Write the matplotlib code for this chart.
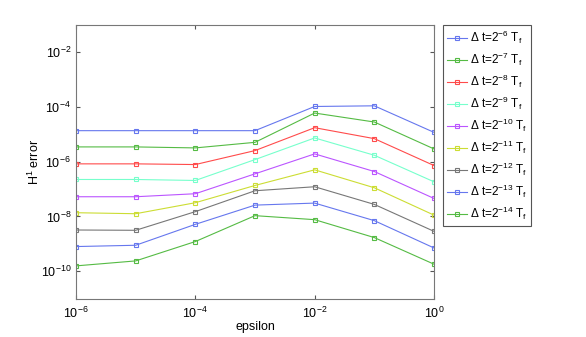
#!/usr/bin/env python3
"""H1 error vs epsilon for several time steps."""
import matplotlib

matplotlib.use("Agg")
import matplotlib.pyplot as plt

plt.rcParams["font.family"] = ["Liberation Sans", "DejaVu Sans"]
plt.rcParams["mathtext.default"] = "regular"

epsilon = [1e-6, 1e-5, 1e-4, 1e-3, 1e-2, 1e-1, 1e0]
dt_exponents = [-6, -7, -8, -9, -10, -11, -12, -13, -14]
errors = [
    [1.37e-5, 1.37e-5, 1.37e-5, 1.37e-5, 1.05e-4, 1.11e-4, 1.19e-5],
    [3.49e-6, 3.49e-6, 3.21e-6, 5.13e-6, 6.04e-5, 2.84e-5, 2.95e-6],
    [8.38e-7, 8.38e-7, 7.91e-7, 2.56e-6, 1.76e-5, 7.00e-6, 7.28e-7],
    [2.25e-7, 2.25e-7, 2.07e-7, 1.20e-6, 7.43e-6, 1.73e-6, 1.85e-7],
    [5.26e-8, 5.26e-8, 6.78e-8, 3.62e-7, 1.94e-6, 4.40e-7, 4.56e-8],
    [1.37e-8, 1.26e-8, 3.18e-8, 1.36e-7, 5.07e-7, 1.12e-7, 1.12e-8],
    [3.20e-9, 3.12e-9, 1.50e-8, 8.71e-8, 1.22e-7, 2.76e-8, 2.86e-9],
    [7.94e-10, 8.85e-10, 5.15e-9, 2.60e-8, 3.08e-8, 7.03e-9, 7.06e-10],
    [1.56e-10, 2.37e-10, 1.21e-9, 1.07e-8, 7.64e-9, 1.69e-9, 1.80e-10],
]
colors = ["#6677ee", "#55bb44", "#ff4b4b", "#77ffcc", "#bb55ff",
          "#ccdd33", "#777777", "#6677ee", "#55bb44"]

fig = plt.figure(figsize=(5.86, 3.37), dpi=100)
ax = fig.add_axes([0.1297, 0.1142, 0.6109, 0.8116])

for exp, errs, c in zip(dt_exponents, errors, colors):
    ax.loglog(epsilon, errs, color=c, lw=0.8, marker="s", ms=3.5,
              mfc="none", mew=0.8,
              label=r"$\Delta$ t=2$^{%d}$ T$_f$" % exp)

ax.set_xlim(1e-6, 1e0)
ax.set_ylim(1e-11, 1e-1)
ax.set_xticks([1e-6, 1e-4, 1e-2, 1e0])
ax.set_yticks([1e-10, 1e-8, 1e-6, 1e-4, 1e-2])
ax.minorticks_off()
ax.tick_params(direction="in", which="both", top=True, right=True,
               labelsize=9, length=3, colors="#555555", labelcolor="black")
ax.tick_params(axis="x", pad=5)
for s in ax.spines.values():
    s.set_color("#777777")
ax.set_xlabel("epsilon", fontsize=9, labelpad=0)
ax.set_ylabel("H$^1$ error", fontsize=9, labelpad=-1)

leg = fig.legend(loc="upper left", bbox_to_anchor=(443 / 586, 1 - 25 / 337),
                 fontsize=8.5, fancybox=False, framealpha=1, edgecolor="#555555",
                 handlelength=1.7, labelspacing=0.4, borderpad=0.3,
                 handletextpad=0.3, borderaxespad=0)
leg.get_frame().set_linewidth(0.8)

fig.savefig("out.png", dpi=100)
